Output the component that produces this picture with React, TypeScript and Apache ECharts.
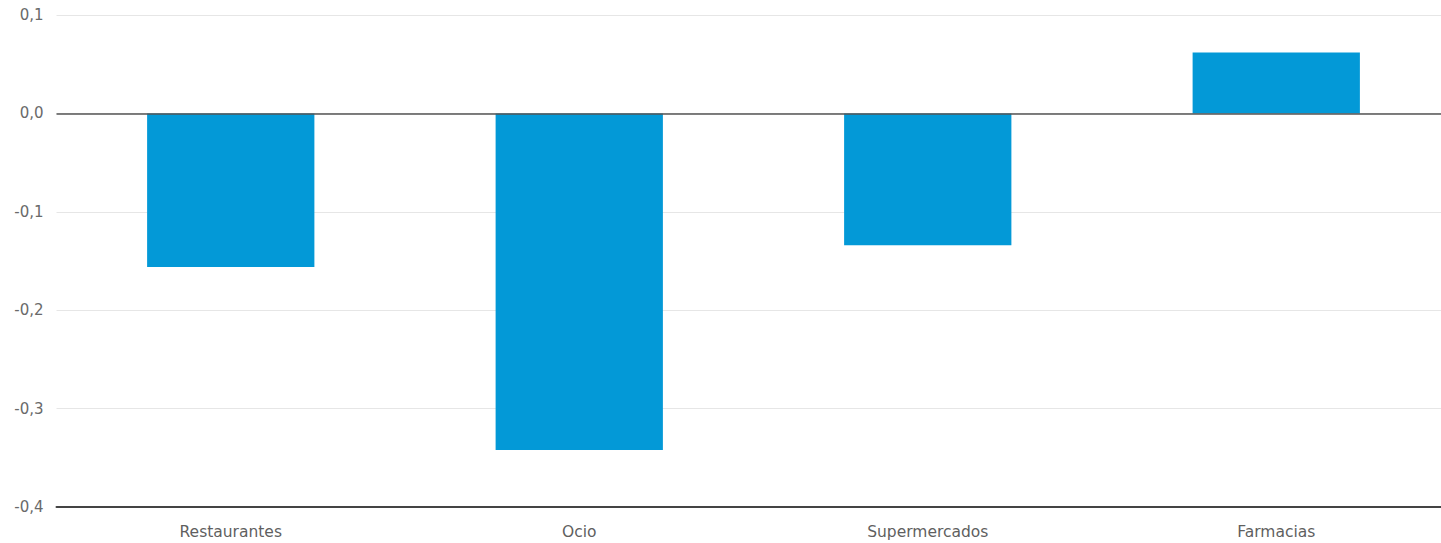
import React, { useEffect, useRef } from "react";
import * as echarts from "echarts";

const categories = ["Restaurantes", "Ocio", "Supermercados", "Farmacias"];
const values = [-0.156, -0.342, -0.134, 0.062];

export default function App() {
  const ref = useRef<HTMLDivElement>(null);
  useEffect(() => {
    if (!ref.current) return;
    const chart = echarts.init(ref.current, null, { renderer: "svg" });
    chart.setOption({
      animation: false,
      backgroundColor: "#ffffff",
      textStyle: { fontFamily: "DejaVu Sans, sans-serif" },
      grid: { left: 56.5, right: 9.5, top: 15, bottom: 36, containLabel: false },
      xAxis: {
        type: "category",
        data: categories,
        axisLine: { onZero: false, lineStyle: { color: "#444", width: 2 } },
        axisTick: { show: false },
        axisLabel: { color: "#5f5f5f", fontSize: 15.5, margin: 16.5 },
        splitLine: { show: false },
      },
      yAxis: {
        type: "value",
        min: -0.4,
        max: 0.1,
        interval: 0.1,
        axisLine: { show: false },
        axisTick: { show: false },
        axisLabel: {
          color: "#6a6a6a",
          fontSize: 15,
          margin: 13,
          formatter: (v: number) => (Math.abs(v) < 1e-9 ? "0,0" : v.toFixed(1).replace(".", ",")),
        },
        splitLine: { lineStyle: { color: "#e6e6e6", width: 1 } },
      },
      series: [
        {
          type: "bar",
          data: values,
          barWidth: "48%",
          itemStyle: { color: "#0399d7" },
          markLine: {
            silent: true,
            symbol: "none",
            label: { show: false },
            lineStyle: { color: "#555", width: 1.5, type: "solid" },
            data: [{ yAxis: 0 }],
          },
        },
      ],
    });
    return () => chart.dispose();
  }, []);
  return (
    <div
      style={{
        position: "fixed",
        left: 0,
        top: 0,
        width: 1441,
        height: 543,
        overflow: "hidden",
        background: "#fff",
      }}
    >
      <div ref={ref} style={{ width: 1460, height: 543 }} />
    </div>
  );
}
